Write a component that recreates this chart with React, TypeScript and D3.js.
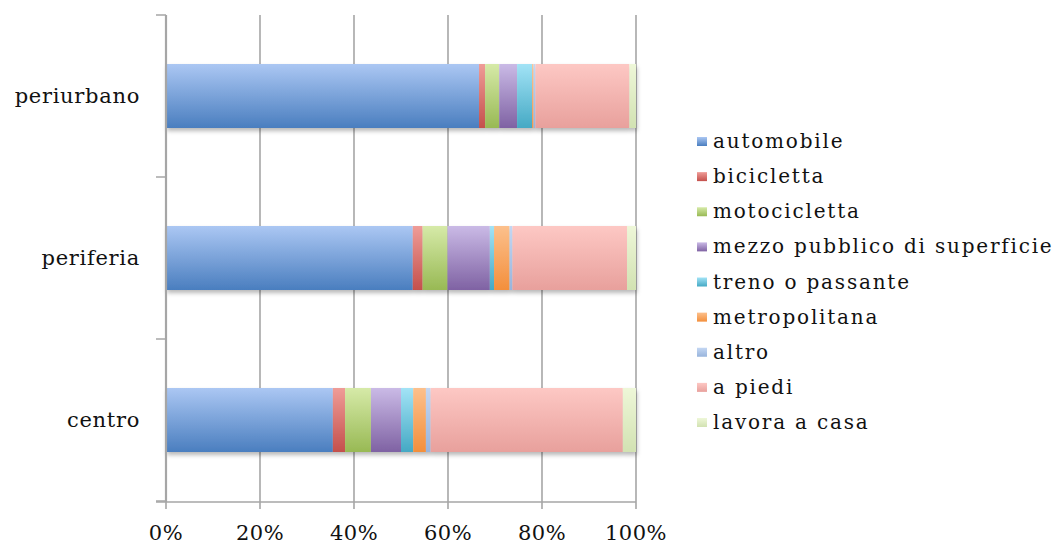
import React from "react";
import * as d3 from "d3";

// Share of trips by transport mode, per area (percent, each row sums to 100)
const categories = ["periurbano", "periferia", "centro"];
const modes = [
  "automobile",
  "bicicletta",
  "motocicletta",
  "mezzo pubblico di superficie",
  "treno o passante",
  "metropolitana",
  "altro",
  "a piedi",
  "lavora a casa",
];
const periurbano = [66.6, 1.3, 3.0, 3.8, 3.2, 0.3, 0.4, 20.0, 1.4];
const periferia = [52.5, 2.1, 5.3, 9.0, 0.9, 3.3, 0.6, 24.4, 1.9];
const centro = [35.5, 2.6, 5.5, 6.4, 2.6, 2.7, 1.0, 40.9, 2.8];
const xTicks = [0, 20, 40, 60, 80, 100];

// Base (bottom) and highlight (top) colours of each series' gradient
const baseColors = ["#4a7ebf", "#c4504c", "#98b954", "#7f62a3", "#45a9c4", "#f38f3c", "#98b4dc", "#e8a09c", "#d2e2b2"];
const topColors = ["#abc7f3", "#ef9c97", "#d6eaa8", "#cabae6", "#a2e3f6", "#fcc08c", "#c4d7f3", "#fdc8c4", "#eef7d8"];

const W = 1061;
const H = 545;

export default function App() {
  const rows = [periurbano, periferia, centro];
  const table = categories.map((c, i) => {
    const o: Record<string, number | string> = { cat: c };
    modes.forEach((m, j) => (o[m] = rows[i][j]));
    return o;
  });
  const stack = d3.stack<Record<string, number | string>>().keys(modes)(table as any);

  const x = d3.scaleLinear().domain([0, 100]).range([166, 636]);
  const y = d3
    .scaleBand<string>()
    .domain(categories)
    .range([15, 501])
    .paddingInner(0.605)
    .paddingOuter(0.3025);

  const font = "'DejaVu Serif', 'Liberation Serif', serif";
  const grid = "#a6a6a6";
  const legendY = d3.scaleLinear().domain([0, modes.length - 1]).range([142, 423]);

  return (
    <svg width={W} height={H} style={{ position: "absolute", left: 0, top: 0, background: "#fff" }}>
      <defs>
        {modes.map((m, i) => (
          <linearGradient key={m} id={`g${i}`} x1="0" y1="0" x2="0" y2="1">
            <stop offset="0%" stopColor={topColors[i]} />
            <stop offset="100%" stopColor={baseColors[i]} />
          </linearGradient>
        ))}
        <filter id="shadow" x="-5%" y="-10%" width="110%" height="130%">
          <feDropShadow dx="1" dy="3" stdDeviation="2" floodColor="#000" floodOpacity="0.28" />
        </filter>
      </defs>

      {/* vertical gridlines */}
      {xTicks.slice(1).map((t) => (
        <line key={t} x1={x(t)} x2={x(t)} y1={15} y2={509} stroke={grid} strokeWidth={1.6} />
      ))}
      {/* x axis baseline */}
      <line x1={156} x2={x(100)} y1={502} y2={502} stroke={grid} strokeWidth={1.5} />
      <line x1={x(0)} x2={x(0)} y1={502} y2={509} stroke={grid} strokeWidth={1.6} />

      {/* bars */}
      {categories.map((c, ci) => (
        <g key={c} filter="url(#shadow)">
          {stack.map((s, si) => {
            const d = s[ci];
            return (
              <rect
                key={si}
                x={x(d[0])}
                y={y(c)!}
                width={Math.max(0, x(d[1]) - x(d[0]))}
                height={y.bandwidth()}
                fill={`url(#g${si})`}
              />
            );
          })}
        </g>
      ))}

      {/* category axis */}
      <line x1={x(0)} x2={x(0)} y1={15} y2={502} stroke={grid} strokeWidth={2.2} />
      {[15, 177, 339, 501].map((v) => (
        <line key={v} x1={156} x2={x(0)} y1={v} y2={v} stroke={grid} strokeWidth={1.5} />
      ))}
      {categories.map((c) => (
        <text
          key={c}
          x={140}
          y={y(c)! + y.bandwidth() / 2 + 7}
          textAnchor="end"
          fontFamily={font}
          fontSize={21}
          letterSpacing={0.7}
          fill="#111"
        >
          {c}
        </text>
      ))}

      {/* value axis labels */}
      {xTicks.map((t) => (
        <text key={t} x={x(t)} y={540} textAnchor="middle" fontFamily={font} fontSize={21} letterSpacing={0.5} fill="#111">
          {`${t}%`}
        </text>
      ))}

      {/* legend */}
      {modes.map((m, i) => (
        <g key={m} transform={`translate(697, ${legendY(i)})`}>
          <rect x={0} y={-5} width={10} height={9} fill={`url(#g${i})`} />
          <text x={16} y={6} fontFamily={font} fontSize={20} letterSpacing={1.8} fill="#111">
            {m}
          </text>
        </g>
      ))}
    </svg>
  );
}
